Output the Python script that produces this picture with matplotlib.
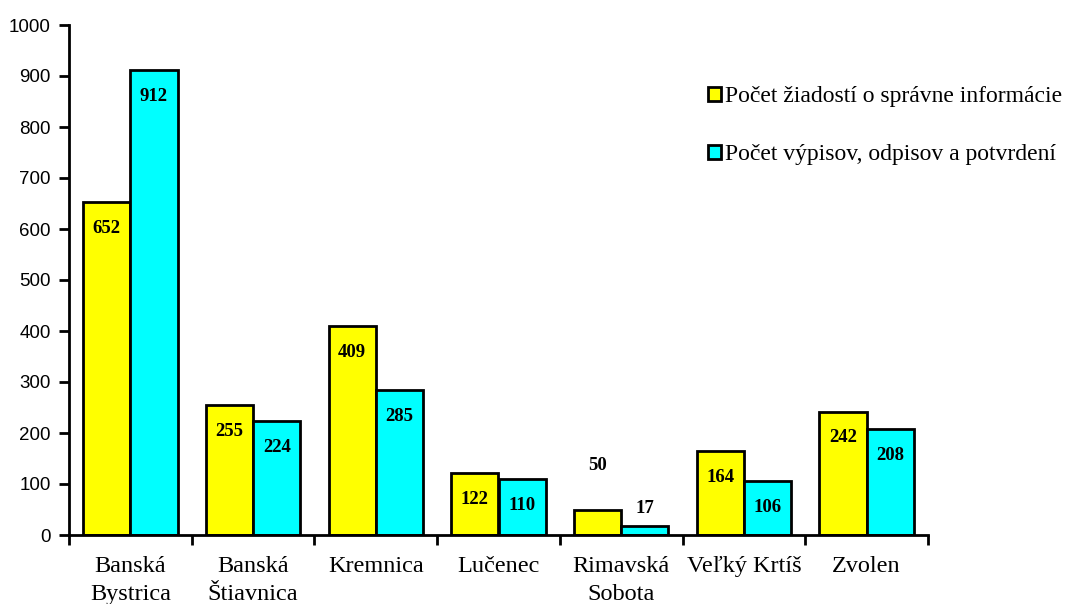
import matplotlib
matplotlib.use("Agg")
import matplotlib.pyplot as plt
import numpy as np

categories = ["Banská\nBystrica", "Banská\nŠtiavnica", "Kremnica", "Lučenec",
              "Rimavská\nSobota", "Veľký Krtíš", "Zvolen"]
series1_name = "Počet žiadostí o správne informácie"
series2_name = "Počet výpisov, odpisov a potvrdení"
series1 = [652, 255, 409, 122, 50, 164, 242]
series2 = [912, 224, 285, 110, 17, 106, 208]
yticks = [0, 100, 200, 300, 400, 500, 600, 700, 800, 900, 1000]

fig = plt.figure(figsize=(10.68, 6.04), dpi=100)
ax = fig.add_axes([69/1068, 1 - 535/604, (928-69)/1068, (535-25)/604])

x = np.arange(len(categories))
w = 0.385
b1 = ax.bar(x - w/2, series1, w, color="#FFFF00", edgecolor="black", linewidth=2, label=series1_name)
b2 = ax.bar(x + w/2, series2, w, color="#00FFFF", edgecolor="black", linewidth=2, label=series2_name)

lab_font = dict(family="Liberation Serif", fontweight="bold", fontsize=13.5)
for bars, vals in ((b1, series1), (b2, series2)):
    for rect, v in zip(bars, vals):
        cx = rect.get_x() + rect.get_width()/2
        if v < 80:
            off = 32 if v >= 40 else 13
        else:
            off = -19
        ax.annotate(str(v), (cx, v), xytext=(0, off), textcoords="offset points",
                    ha="center", va="center", **lab_font)

ax.set_xlim(-0.5, len(categories) - 0.5)
ax.set_ylim(0, 1000)
ax.set_yticks(yticks)
ax.set_yticklabels([str(t) for t in yticks], family="Liberation Sans", fontsize=13.5)
ax.set_xticks(np.arange(len(categories) + 1) - 0.5)
ax.set_xticklabels([])
ax.set_xticks(x, minor=True)
ax.set_xticklabels(categories, minor=True, family="Liberation Serif", fontsize=17.5, linespacing=1.45)
ax.tick_params(axis="x", which="minor", length=0, pad=15)
ax.tick_params(axis="x", which="major", length=7, width=2, direction="out")
ax.tick_params(axis="y", length=7, width=2, direction="out", pad=6)
for s in ("top", "right"):
    ax.spines[s].set_visible(False)
for s in ("left", "bottom"):
    ax.spines[s].set_linewidth(2)

leg = fig.legend(handles=[b1, b2], loc="upper left", bbox_to_anchor=(699/1068, 1 - 77/604),
                 frameon=False, prop=dict(family="Liberation Serif", size=17),
                 handlelength=0.55, handleheight=0.55, handletextpad=0.15, labelspacing=1.55,
                 borderaxespad=0)

fig.savefig("out.png", dpi=100)
